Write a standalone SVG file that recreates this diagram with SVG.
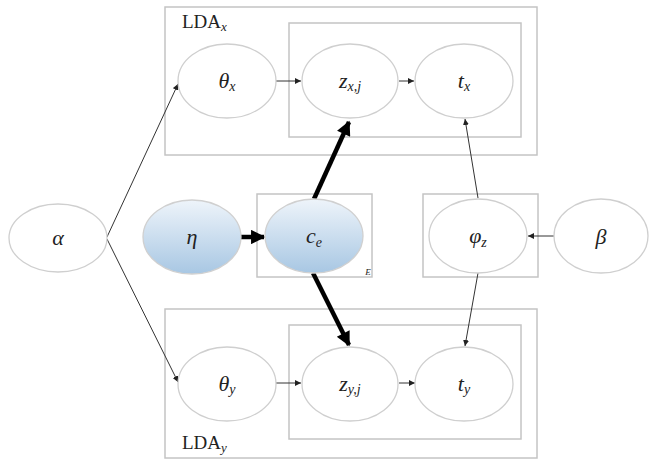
<svg xmlns="http://www.w3.org/2000/svg" width="650" height="460" viewBox="0 0 650 460">
<style>
.box{fill:none;stroke:#c4c4c4;stroke-width:1.5}
.node{fill:#fff;stroke:#cfcfcf;stroke-width:1.3}
.shade{fill:url(#blue);stroke:#d0d0d0;stroke-width:1.3}
.lbl{font-family:"Liberation Serif","Times New Roman",serif;font-style:italic;font-size:22px;fill:#222;text-anchor:middle}
.sub{font-size:14px}
.tiny{font-size:9px}
.title{font-family:"Liberation Serif","Times New Roman",serif;font-size:19px;fill:#222}
.thin{stroke:#333;stroke-width:1;fill:none;marker-end:url(#ah)}
.thick{stroke:#000;stroke-width:4.5;fill:none;marker-end:url(#ahb)}
</style>
<defs>
<linearGradient id="blue" x1="0" y1="0" x2="0" y2="1">
<stop offset="0" stop-color="#eef4fa"/>
<stop offset="1" stop-color="#a8c7e3"/>
</linearGradient>
<marker id="ah" viewBox="0 0 10 10" refX="10" refY="5" markerWidth="6" markerHeight="6" markerUnits="userSpaceOnUse" orient="auto">
<path d="M0,0 L10,5 L0,10 z" fill="#222"/>
</marker>
<marker id="ahb" viewBox="0 0 10 10" refX="9" refY="5" markerWidth="4" markerHeight="3.2" orient="auto">
<path d="M0,0 L10,5 L0,10 z" fill="#000"/>
</marker>
</defs>
<rect width="650" height="460" fill="#fff"/>
<g id="plates">
<rect id="plate-ldax" class="box" x="165" y="7" width="372" height="148"/>
<rect id="plate-ldax-inner" class="box" x="289" y="23" width="232" height="114"/>
<rect id="plate-lday" class="box" x="165" y="309" width="372" height="149"/>
<rect id="plate-lday-inner" class="box" x="289" y="325" width="232" height="114"/>
<rect id="plate-e" class="box" x="257" y="194" width="115" height="83"/>
<rect id="plate-phi" class="box" x="423" y="194" width="115" height="83"/>
<text class="title" x="182" y="28">LDA<tspan font-style="italic" font-size="13" dy="3">x</tspan></text>
<text class="title" x="182" y="449">LDA<tspan font-style="italic" font-size="13" dy="3">y</tspan></text>
<text class="lbl tiny" x="368" y="275">E</text>
</g>
<g id="connectors">
<line class="thin" x1="107" y1="237" x2="178" y2="84"/>
<line class="thin" x1="107" y1="239" x2="178" y2="382"/>
<line class="thin" x1="276" y1="81" x2="301" y2="81"/>
<line class="thin" x1="399" y1="81" x2="414" y2="81"/>
<line class="thin" x1="276" y1="383" x2="301" y2="383"/>
<line class="thin" x1="399" y1="383" x2="415" y2="383"/>
<line class="thin" x1="554" y1="236" x2="528" y2="236"/>
<line class="thin" x1="478" y1="198" x2="465" y2="119"/>
<line class="thin" x1="478" y1="273" x2="465" y2="346"/>
<line class="thick" x1="241" y1="237" x2="264" y2="237"/>
<line class="thick" x1="314" y1="199" x2="349" y2="122"/>
<line class="thick" x1="313" y1="273" x2="349" y2="345"/>
</g>
<g id="alpha"><ellipse class="node" cx="58" cy="238" rx="49" ry="34"/><text class="lbl" x="58" y="245">α</text></g>
<g id="eta"><ellipse class="shade" cx="192" cy="237" rx="49" ry="37"/><text class="lbl" x="192" y="244">η</text></g>
<g id="ce"><ellipse class="shade" cx="314" cy="236" rx="49" ry="37"/><text class="lbl" x="314" y="243">c<tspan class="sub" dy="4">e</tspan></text></g>
<g id="phiz"><ellipse class="node" cx="478" cy="236" rx="49" ry="37"/><text class="lbl" x="478" y="243">φ<tspan class="sub" dy="4">z</tspan></text></g>
<g id="beta"><ellipse class="node" cx="601" cy="236" rx="47" ry="37"/><text class="lbl" x="601" y="244">β</text></g>
<g id="thetax"><ellipse class="node" cx="227" cy="81" rx="49" ry="37"/><text class="lbl" x="227" y="88">θ<tspan class="sub" dy="3">x</tspan></text></g>
<g id="zxj"><ellipse class="node" cx="350" cy="81" rx="48" ry="37"/><text class="lbl" x="350" y="88">z<tspan class="sub" dy="3">x,j</tspan></text></g>
<g id="tx"><ellipse class="node" cx="464" cy="81" rx="49" ry="37"/><text class="lbl" x="464" y="88">t<tspan class="sub" dy="3">x</tspan></text></g>
<g id="thetay"><ellipse class="node" cx="227" cy="384" rx="49" ry="37"/><text class="lbl" x="227" y="391">θ<tspan class="sub" dy="3">y</tspan></text></g>
<g id="zyj"><ellipse class="node" cx="350" cy="384" rx="48" ry="37"/><text class="lbl" x="350" y="391">z<tspan class="sub" dy="3">y,j</tspan></text></g>
<g id="ty"><ellipse class="node" cx="464" cy="384" rx="49" ry="37"/><text class="lbl" x="464" y="391">t<tspan class="sub" dy="3">y</tspan></text></g>
</svg>
